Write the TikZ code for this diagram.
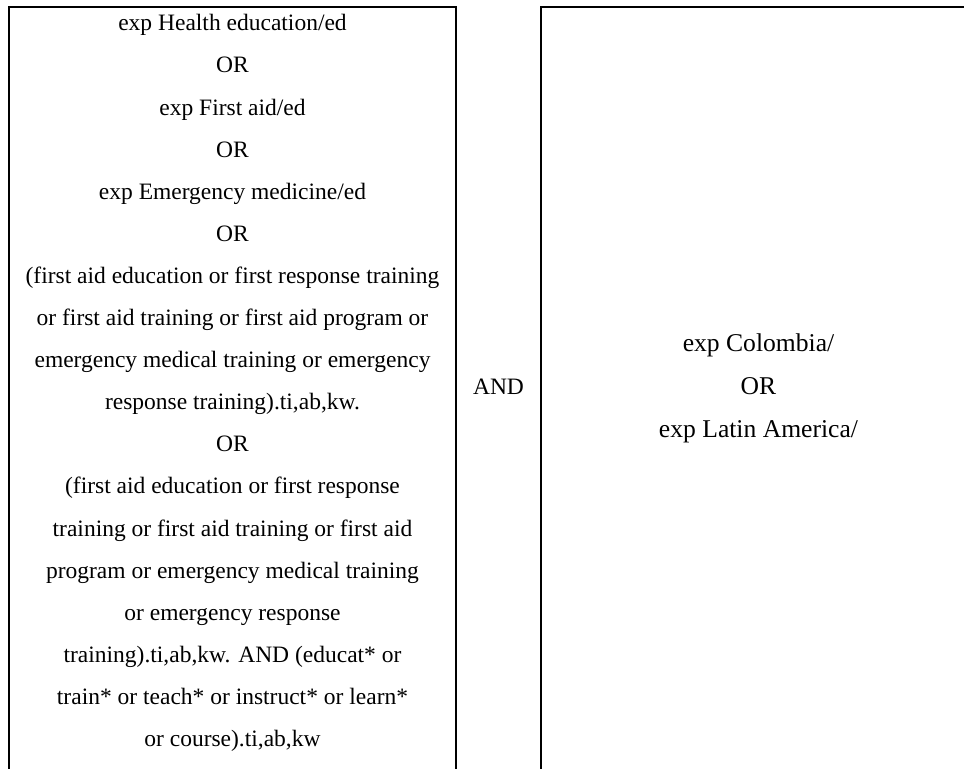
\documentclass[tikz,border=0pt]{standalone}
\usepackage{fontspec}
\setmainfont{Liberation Serif}
\usetikzlibrary{positioning}

\begin{document}
\begin{tikzpicture}[
  x=0.5pt,y=-0.5pt,
  rule/.style={line width=1pt,draw=black},
  cell/.style={align=center,inner sep=0pt,
               font=\fontsize{11.75}{21.05}\selectfont},
  bigcell/.style={cell,font=\fontsize{12.8}{21.5}\selectfont}
]
\useasboundingbox (0,0) rectangle (964,769);
\clip (0,0) rectangle (964,769);
% table rules (open at the bottom and on the right)
\coordinate (termsbl) at (9,800);
\coordinate (termstl) at (9,7);
\coordinate (termstr) at (456,7);
\coordinate (termsbr) at (456,800);
\coordinate (placesbl) at (541,800);
\coordinate (placestl) at (541,7);
\coordinate (placestr) at (1000,7);
\draw[rule] (termsbl) -- (termstl) -- (termstr) -- (termsbr);
\draw[rule] (placesbl) -- (placestl) -- (placestr);

\node[cell] (terms) at (232.5,383) {exp Health education/ed\\
  OR\\
  exp First aid/ed\\
  OR\\
  exp Emergency medicine/ed\\
  OR\\
  (first aid education or first response training\\
  or first aid training or first aid program or\\
  emergency medical training or emergency\\
  response training).ti,ab,kw.\\
  OR\\
  (first aid education or first response\\
  training or first aid training or first aid\\
  program or emergency medical training\\
  or emergency response\\
  training).ti,ab,kw. AND (educat* or\\
  train* or teach* or instruct* or learn*\\
  or course).ti,ab,kw};
\node[cell] (and) at (498.5,387) {AND};
\node[bigcell] (places) at (758.5,388) {exp Colombia/\\
  OR\\
  exp Latin America/};
\end{tikzpicture}
\end{document}
